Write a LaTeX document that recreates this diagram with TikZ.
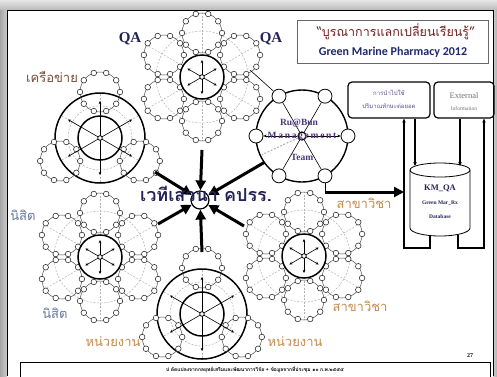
\documentclass[tikz,border=0pt]{standalone}
\usepackage{fontspec}
\setmainfont{Liberation Serif}
\newfontfamily\thaifont[Script=Thai]{Loma}
\newfontfamily\calfont{Carlito}
\usetikzlibrary{arrows.meta,calc}
\definecolor{navyc}{RGB}{35,35,90}
\definecolor{maroonc}{RGB}{115,35,35}
\definecolor{tanc}{RGB}{196,140,78}
\definecolor{slatec}{RGB}{105,120,160}
\definecolor{brownc}{RGB}{120,80,60}
\definecolor{purplec}{RGB}{95,80,140}
\definecolor{wheelc}{RGB}{75,55,125}
\definecolor{bluec}{RGB}{30,40,110}
\tikzset{
  ringline/.style={draw=black!70, line width=0.5pt},
  dotc/.style={draw=black!85, fill=white, line width=0.55pt},
  faint/.style={draw=black!30, line width=0.5pt, dash pattern=on 2pt off 1.5pt},
  innerc/.style={draw=black, line width=1.5pt, fill=white},
  outerc/.style={draw=black, line width=1.5pt},
  spokearrow/.style={-{Stealth[length=3.2pt,width=2.8pt]}, line width=0.6pt},
  bigarrow/.style={-{Triangle[length=10pt,width=10pt]}, line width=3pt},
  flowarrow/.style={-{Stealth[length=4pt,width=3.5pt]}, line width=1.2pt},
  lbl/.style={font=\thaifont\fontsize{13}{13}\selectfont},
  qa/.style={font=\bfseries\fontsize{15}{15}\selectfont, text=navyc},
  wnode/.style={circle, draw, fill=white, line width=0.8pt, minimum size=14pt, inner sep=0pt},
  wtext/.style={font=\bfseries\fontsize{9.5}{9.5}\selectfont, text=wheelc, inner sep=0pt},
  infobox/.style={draw, rounded corners=4pt, line width=1.2pt, align=center, inner sep=0pt},
}
\newcommand{\petal}{%
  \draw[ringline] (0,0) circle (20pt);
  \foreach \k in {0,36,...,324} \draw[dotc] (\k:20pt) circle (2.8pt);
}
\newcommand{\flowerA}[2]{%
  \coordinate (#1) at #2;
  \begin{scope}[shift={#2}]
    \draw[faint] (0,0) circle (46pt);
    \foreach \a in {30,90,...,330} \draw[faint] (0,0) -- (\a:64pt);
    \foreach \a in {30,90,...,330}{\begin{scope}[shift={(\a:44pt)}]\petal\end{scope}}
    \draw[innerc] (0,0) circle (22pt);
    \foreach \a in {30,90,...,330} \draw[spokearrow] (0,0) -- (\a:17pt);
    \draw[line width=0.8pt, fill=white] (0,0) circle (2.3pt);
  \end{scope}}
\newcommand{\flowerB}[2]{%
  \coordinate (#1) at #2;
  \begin{scope}[shift={#2}]
    \draw[faint] (0,0) circle (32pt);
    \foreach \a in {30,90,...,330} \draw[faint] (0,0) -- (\a:44pt);
    \draw[outerc] (0,0) circle (45pt);
    \foreach \a in {90,210,330}{\begin{scope}[shift={(\a:46pt)}]\petal\end{scope}}
    \draw[innerc] (0,0) circle (22pt);
    \foreach \a in {30,90,...,330} \draw[spokearrow] (0,0) -- (\a:37pt);
    \draw[line width=0.8pt, fill=white] (0,0) circle (2.3pt);
  \end{scope}}
\begin{document}
\begin{tikzpicture}[x=1pt,y=-1pt]
\useasboundingbox (0,0) rectangle (497,376);
% frame
\shade[top color=gray!20, bottom color=gray!55] (0,0) rectangle (497,10);
\shade[left color=gray!70, right color=gray!40] (0,10) rectangle (7,376);
\shade[left color=gray!40, right color=gray!60] (493,10) rectangle (497,376);
\fill[white] (7,10) rectangle (493,376);
\draw[line width=0.9pt] (7,376) -- (7,10) -- (493,10) -- (493,376);

% flowers
\flowerA{fQA}{(202,77)}
\flowerB{fNet}{(100,138)}
\flowerA{fStu}{(100,257)}
\flowerB{fUnit}{(202,314)}
\flowerA{fDep}{(304,256)}

% management wheel
\coordinate (mg) at (302,136);
\draw[line width=1.4pt, fill=white] (mg) circle (46pt);
\foreach \a [count=\i] in {0,60,...,300} \node[wnode] (m\i) at ($(mg)+(\a:46pt)$) {};
\node[circle, draw, line width=1.2pt, fill=white, minimum size=8pt, inner sep=0pt] (mhub) at (mg) {};
\foreach \i in {2,3,5,6} \draw[line width=0.6pt] (mhub) -- (m\i);
\draw[spokearrow] (mhub) -- (m1);
\draw[spokearrow] (mhub) -- (m4);
\coordinate (mdash) at ($(mg)+(205:44pt)$);
\draw[faint, line width=1pt] (mhub) -- (mdash);
\coordinate (qalink) at (250,70);
\draw[line width=0.6pt] (qalink) -- (m3);
\node[wtext] (wt1) at (299,123) {Ru@Bun};
\node[wtext, font=\bfseries\fontsize{9.5}{9.5}\selectfont\addfontfeature{LetterSpace=18}] (wt2) at (302,136) {Management};
\node[wtext] (wt3) at (302,157) {Team};

% centre
\node[circle, draw, line width=1.2pt, fill=white, minimum size=18pt, inner sep=0pt] (hub) at (200,200) {};
\coordinate (sTop) at (202,150);
\coordinate (sUL) at (155,172);
\coordinate (sUR) at ($(mg)+(215:46pt)$);
\coordinate (sLL) at (158,224);
\coordinate (sLR) at (244,226);
\coordinate (sBot) at (202,252);
\foreach \s in {sTop,sUL,sUR,sLL,sLR,sBot} \draw[bigarrow] (\s) -- (hub);
\node[font=\thaifont\bfseries\fontsize{18}{18}\selectfont, text=navyc, inner sep=0pt] (forum) at (206,194) {เวทีเสวนา คปรร.};

% labels
\node[qa] (qa1) at (130,39) {QA};
\node[qa] (qa2) at (271,39) {QA};
\node[lbl, text=brownc] (lnet) at (52,77) {เครือข่าย};
\node[lbl, text=slatec] (lstu1) at (23,215) {นิสิต};
\node[lbl, text=slatec] (lstu2) at (55,313) {นิสิต};
\node[lbl, text=tanc] (lunit1) at (113,341) {หน่วยงาน};
\node[lbl, text=tanc] (lunit2) at (295,341) {หน่วยงาน};
\node[lbl, text=tanc] (ldep1) at (364,203) {สาขาวิชา};
\node[lbl, text=tanc] (ldep2) at (360,306) {สาขาวิชา};

% title
\node[draw=black!60, line width=0.8pt, minimum width=191pt, minimum height=43pt, inner sep=0pt] (titlebox) at (392.5,41.5) {};
\node[font=\thaifont\fontsize{12.5}{12.5}\selectfont, text=maroonc, inner sep=0pt] (title1) at (396,32) {“บูรณาการแลกเปลี่ยนเรียนรู้”};
\node[font=\calfont\bfseries\fontsize{12}{12}\selectfont, text=bluec, inner sep=0pt] (title2) at (393,52) {Green Marine Pharmacy 2012};

% right side boxes
\node[infobox, minimum width=82pt, minimum height=36pt] (use) at (389,100) {};
\node[font=\thaifont\fontsize{6}{6}\selectfont, text=purplec, inner sep=0pt] (use1) at (389,93) {การนำไปใช้};
\node[font=\thaifont\fontsize{6}{6}\selectfont, text=purplec, inner sep=0pt] (use2) at (389,106) {ปริมาณทักษะต่อยอด};
\node[infobox, minimum width=60pt, minimum height=36pt] (ext) at (464,100) {};
\node[font=\fontsize{8.5}{8.5}\selectfont, text=black!55, inner sep=0pt] (ext1) at (464,96) {External};
\node[font=\fontsize{5.5}{5.5}\selectfont, text=black!55, inner sep=0pt] (ext2) at (464,109) {Information};

% database cylinder
\draw[line width=0.8pt, fill=white] (410,170) -- (410,228) arc[start angle=180,end angle=360,x radius=30pt,y radius=8pt] -- (470,170);
\draw[line width=0.8pt] (440,170) ellipse [x radius=30pt, y radius=7pt];
\node[font=\bfseries\fontsize{8.5}{8.5}\selectfont, text=navyc, inner sep=0pt] (db1) at (440,188) {KM\_QA};
\node[font=\bfseries\fontsize{5.5}{5.5}\selectfont, text=navyc, inner sep=0pt] (db2) at (440,203) {Green Mar\_Rx};
\node[font=\bfseries\fontsize{5.5}{5.5}\selectfont, text=navyc, inner sep=0pt] (db3) at (440,217) {Database};

\coordinate (dbA) at (415,166);
\coordinate (dbB) at (460,166);
\draw[flowarrow] (use.south -| dbA) -- (dbA);
\draw[flowarrow] (ext.south -| dbB) -- (dbB);
\coordinate (dbL) at (430,235.5);
\coordinate (lpL) at (404,248);
\draw[flowarrow] (dbL) |- (lpL) -- (use.south -| lpL);
\coordinate (dbR) at (458,235);
\coordinate (lpR) at (484,248);
\draw[flowarrow] (dbR) |- (lpR) -- (ext.south -| lpR);
\coordinate (dbin) at (404,192);
\draw[line width=0.7pt] (m6) -- (m6 |- dbin);
\draw[bigarrow] (m6 |- dbin) -- (dbin);

% page number and footer
\node[font=\bfseries\fontsize{6}{6}\selectfont, inner sep=0pt] (pgno) at (470,356) {27};
\draw[line width=0.7pt] (20,362) rectangle (490,380);
\node[font=\thaifont\bfseries\fontsize{5}{5}\selectfont, inner sep=0pt] (foot) at (255,369.5) {ป ดัดแปลงจากกลยุทธ์เสริมและพัฒนาการวิจัย + ข้อมูลจากที่ประชุม ๑๐ ก.พ.๒๕๕๕};
\end{tikzpicture}
\end{document}
